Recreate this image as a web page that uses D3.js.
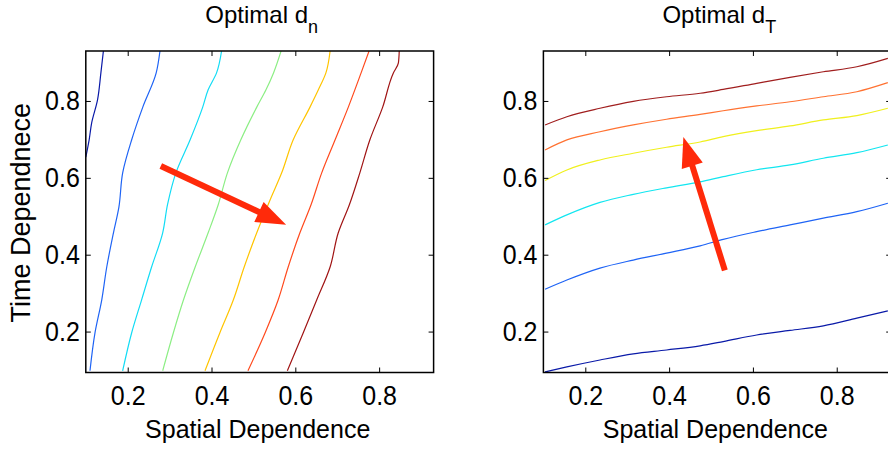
<!DOCTYPE html>
<html>
<head>
<meta charset="utf-8">
<script src="https://cdn.jsdelivr.net/npm/d3@7"></script>
<style>
  body { margin: 0; background: #fff; }
  text { font-family: "Liberation Sans", Arial, Helvetica, sans-serif; fill: #000; }
</style>
</head>
<body>
<svg id="chart" width="888" height="449"></svg>
<script>
// ticks
var xTicks = [0.2, 0.4, 0.6, 0.8];
var yTicks = [0.2, 0.4, 0.6, 0.8];

// left panel: optimal d_n contours (x = spatial, y = time)
var dnContours = [
  [[0.142,0.930],[0.136,0.873],[0.128,0.803],[0.114,0.743],[0.108,0.699],[0.100,0.654]],
  [[0.277,0.930],[0.268,0.873],[0.236,0.784],[0.2095,0.699],[0.188,0.613],[0.179,0.524],[0.166,0.457],[0.150,0.368],[0.138,0.282],[0.122,0.197],[0.110,0.098]],
  [[0.424,0.930],[0.412,0.873],[0.392,0.829],[0.379,0.784],[0.349,0.699],[0.315,0.613],[0.295,0.530],[0.2835,0.457],[0.257,0.368],[0.233,0.282],[0.2095,0.197],[0.188,0.098]],
  [[0.566,0.930],[0.548,0.873],[0.530,0.829],[0.508,0.784],[0.470,0.699],[0.438,0.613],[0.416,0.530],[0.392,0.457],[0.361,0.368],[0.333,0.282],[0.309,0.197],[0.2835,0.098]],
  [[0.683,0.930],[0.673,0.873],[0.655,0.829],[0.635,0.784],[0.595,0.699],[0.5675,0.613],[0.540,0.543],[0.508,0.457],[0.478,0.368],[0.452,0.282],[0.420,0.197],[0.3845,0.098]],
  [[0.776,0.930],[0.757,0.873],[0.7265,0.784],[0.695,0.699],[0.663,0.613],[0.6375,0.530],[0.611,0.457],[0.583,0.368],[0.559,0.282],[0.528,0.197],[0.487,0.098]],
  [[0.848,0.930],[0.846,0.899],[0.834,0.873],[0.8085,0.784],[0.778,0.699],[0.754,0.613],[0.729,0.530],[0.7025,0.457],[0.683,0.368],[0.651,0.282],[0.619,0.197],[0.581,0.098]]
];
var dnColors = ["#0a1aa8", "#1f64f5", "#12dcf5", "#8cee84", "#ffc400", "#ff4a1e", "#a01414"];
var dnArrow = [[0.279, 0.631], [0.578, 0.478]];

// right panel: optimal d_T contours
var dtContours = [
  [[0.104,0.095],[0.156,0.108],[0.235,0.126],[0.3145,0.142],[0.394,0.152],[0.474,0.163],[0.529,0.174],[0.609,0.191],[0.6885,0.203],[0.768,0.215],[0.848,0.235],[0.922,0.254]],
  [[0.104,0.310],[0.156,0.334],[0.235,0.365],[0.3145,0.386],[0.394,0.404],[0.474,0.423],[0.529,0.440],[0.609,0.460],[0.6885,0.4775],[0.768,0.495],[0.848,0.512],[0.922,0.534]],
  [[0.104,0.4775],[0.156,0.5035],[0.235,0.536],[0.3145,0.557],[0.394,0.574],[0.474,0.5895],[0.529,0.603],[0.609,0.621],[0.6885,0.6335],[0.768,0.651],[0.848,0.6655],[0.922,0.6855]],
  [[0.104,0.593],[0.156,0.6205],[0.235,0.6465],[0.3145,0.664],[0.394,0.6796],[0.474,0.6933],[0.529,0.707],[0.609,0.7228],[0.6885,0.735],[0.768,0.7506],[0.848,0.762],[0.922,0.781]],
  [[0.104,0.6726],[0.156,0.6986],[0.235,0.720],[0.3145,0.7376],[0.394,0.7524],[0.474,0.765],[0.529,0.7746],[0.609,0.787],[0.6885,0.798],[0.768,0.811],[0.848,0.824],[0.922,0.8476]],
  [[0.104,0.7376],[0.156,0.759],[0.235,0.781],[0.3145,0.799],[0.394,0.811],[0.474,0.820],[0.529,0.830],[0.609,0.846],[0.6885,0.8616],[0.768,0.876],[0.848,0.889],[0.922,0.911]]
];
var dtColors = ["#0a1aa8", "#1f64f5", "#12e6f0", "#f0f01e", "#ff7232", "#a01e1e"];
var dtArrow = [[0.533, 0.359], [0.434, 0.706]];

var svg = d3.select("#chart");
var iw = 347.8, ih = 321.5, plotTop = 51;
var arrowColor = "#ff2a0a";

function drawPanel(left, name, title, sub, contours, colors, arrow, curve, yLabel) {
  var x = d3.scaleLinear().domain([0.1, 0.93]).range([0, iw]);
  var y = d3.scaleLinear().domain([0.0935, 0.93]).range([ih, 0]);
  var g = svg.append("g").attr("transform", "translate(" + left + "," + plotTop + ")");

  g.append("clipPath").attr("id", "clip-" + name)
    .append("rect").attr("width", iw).attr("height", ih);

  var line = d3.line()
    .curve(curve)
    .x(function(d) { return x(d[0]); })
    .y(function(d) { return y(d[1]); });

  var plot = g.append("g").attr("clip-path", "url(#clip-" + name + ")");
  contours.forEach(function(c, i) {
    plot.append("path")
      .attr("d", line(c))
      .attr("fill", "none")
      .attr("stroke", colors[i])
      .attr("stroke-width", 1.2);
  });

  // axes, matlab style ticks inside on all sides
  var fmt = d3.format(".1f");
  g.append("g").attr("transform", "translate(0," + ih + ")")
    .call(d3.axisBottom(x).tickValues(xTicks).tickSize(-5).tickSizeOuter(0).tickPadding(11).tickFormat(fmt));
  g.append("g")
    .call(d3.axisLeft(y).tickValues(yTicks).tickSize(-5).tickSizeOuter(0).tickPadding(6).tickFormat(fmt));
  g.append("g").call(d3.axisTop(x).tickValues(xTicks).tickSize(-5).tickSizeOuter(0).tickFormat(""));
  g.append("g").attr("transform", "translate(" + iw + ",0)")
    .call(d3.axisRight(y).tickValues(yTicks).tickSize(-5).tickSizeOuter(0).tickFormat(""));
  g.selectAll(".domain").remove();
  g.selectAll(".tick line").attr("stroke", "#000").attr("stroke-width", 1);
  g.selectAll(".tick text")
    .style("font-size", "25px")
    .attr("fill", "#000")
    .attr("transform", "scale(1,1.12)");

  g.append("rect")
    .attr("width", iw).attr("height", ih)
    .attr("fill", "none").attr("stroke", "#000").attr("stroke-width", 1.5);

  // arrow
  var x1 = x(arrow[0][0]), y1 = y(arrow[0][1]);
  var x2 = x(arrow[1][0]), y2 = y(arrow[1][1]);
  var len = Math.hypot(x2 - x1, y2 - y1);
  var ux = (x2 - x1) / len, uy = (y2 - y1) / len;
  var hl = 30, hw = 11;
  var bx = x2 - ux * hl, by = y2 - uy * hl;
  g.append("line")
    .attr("x1", x1).attr("y1", y1)
    .attr("x2", bx + ux * 4).attr("y2", by + uy * 4)
    .attr("stroke", arrowColor).attr("stroke-width", 6);
  g.append("polygon")
    .attr("points", [[x2, y2], [bx - uy * hw, by + ux * hw], [bx + uy * hw, by - ux * hw]].join(" "))
    .attr("fill", arrowColor);

  // title with subscript
  var t = g.append("text")
    .attr("x", iw / 2 + 2).attr("y", -28)
    .attr("text-anchor", "middle")
    .style("font-size", "24px");
  t.append("tspan").text(title);
  t.append("tspan").attr("dy", 10).style("font-size", "18px").text(sub);

  g.append("text")
    .attr("x", iw / 2 - 2).attr("y", ih + 65)
    .attr("text-anchor", "middle")
    .style("font-size", "25px")
    .text("Spatial Dependence");

  if (yLabel) {
    g.append("text")
      .attr("transform", "translate(" + (30 - left) + "," + (ih / 2 + 1) + ") rotate(-90)")
      .attr("text-anchor", "middle")
      .style("font-size", "27px")
      .text(yLabel);
  }
}

drawPanel(85.8, "dn", "Optimal d", "n", dnContours, dnColors, dnArrow, d3.curveMonotoneY, "Time Dependnece");
drawPanel(543.4, "dt", "Optimal d", "T", dtContours, dtColors, dtArrow, d3.curveMonotoneX, null);
</script>
</body>
</html>
